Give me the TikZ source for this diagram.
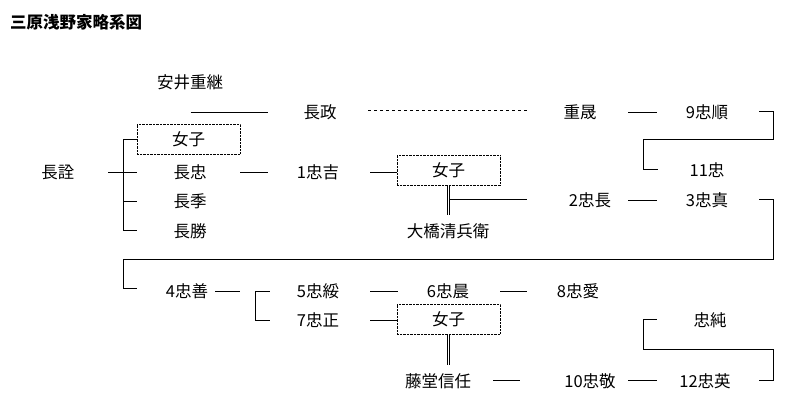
\documentclass[tikz,border=0pt]{standalone}
\usepackage{fontspec}
\setmainfont{Noto Sans CJK JP}
\begin{document}
\begin{tikzpicture}[x=1pt,y=-1pt,
 n/.style={inner sep=0pt,font=\fontsize{16.5}{16.5}\selectfont},
 bx/.style={draw,densely dotted,minimum width=103pt,minimum height=30pt,inner sep=0pt,font=\fontsize{16.5}{16.5}\selectfont},
 l/.style={line width=0.8pt},
 dbl/.style={double,double distance=1.5pt,line width=0.6pt}]
\useasboundingbox (0,0) rectangle (798,412);
\node[n,anchor=west,font=\fontsize{16.5}{16.5}\selectfont\bfseries] (title) at (10,22) {三原浅野家略系図};
\node[n] (yasui) at (190,82) {安井重継};
\node[bx] (jo1) at (188.5,139) {女子};
\node[n] (nagamasa) at (320,112) {長政};
\node[n] (shigeaki) at (580,112) {重晟};
\node[n] (t9) at (707,112) {9忠順};
\node[n] (t11) at (707,170) {11忠};
\node[n] (nagaaki) at (58,172) {長詮};
\node[n] (nagatada) at (190,172) {長忠};
\node[n] (nagasue) at (190,201) {長季};
\node[n] (nagakatsu) at (190,231) {長勝};
\node[n] (t1) at (318,172) {1忠吉};
\node[bx] (jo2) at (448.5,170.5) {女子};
\node[n] (ohashi) at (448,231) {大橋清兵衛};
\node[n] (t2) at (590,200) {2忠長};
\node[n] (t3) at (707,200) {3忠真};
\node[n] (t4) at (187,291) {4忠善};
\node[n] (t5) at (318,291) {5忠綏};
\node[n] (t7) at (318,320) {7忠正};
\node[n] (t6) at (448,291) {6忠晨};
\node[n] (t8) at (578,291) {8忠愛};
\node[bx] (jo3) at (448.5,319) {女子};
\node[n] (todo) at (438,381) {藤堂信任};
\node[n] (t10) at (590,381) {10忠敬};
\node[n] (t12) at (705,381) {12忠英};
\node[n] (tsumi) at (710,320) {忠純};
\draw[dbl] (189,93) -- (189,124);
\draw[l] (190.5,112) -- (268,112);
\draw[dashed,line width=0.5pt] (368,110) -- (527,110);
\draw[l] (628,112) -- (657,112);
\draw[l] (759,111) -- (773,111) -- (773,139) -- (643,139) -- (643,169) -- (658,169);
\draw[l] (108,172) -- (137,172);
\draw[l] (137,139) -- (123,139) -- (123,230) -- (137,230);
\draw[l] (123,201) -- (137,201);
\draw[l] (240,172) -- (268,172);
\draw[l] (370,172) -- (397,172);
\draw[dbl] (448.5,185.5) -- (448.5,215);
\draw[l] (450,199) -- (527,199);
\draw[l] (628,200) -- (657,200);
\draw[l] (759,199) -- (773,199) -- (773,259) -- (123,259) -- (123,288) -- (137,288);
\draw[l] (215,291) -- (240,291);
\draw[l] (255,291) -- (255,320);
\draw[l] (255,291) -- (270,291);
\draw[l] (255,320) -- (270,320);
\draw[l] (370,291) -- (398,291);
\draw[l] (500,291) -- (527,291);
\draw[l] (370,320) -- (397,320);
\draw[dbl] (448.5,334) -- (448.5,365);
\draw[l] (493,380) -- (520,380);
\draw[l] (628,380) -- (657,380);
\draw[l] (759,380) -- (773,380) -- (773,349) -- (643,349) -- (643,319) -- (657,319);
\end{tikzpicture}
\end{document}
